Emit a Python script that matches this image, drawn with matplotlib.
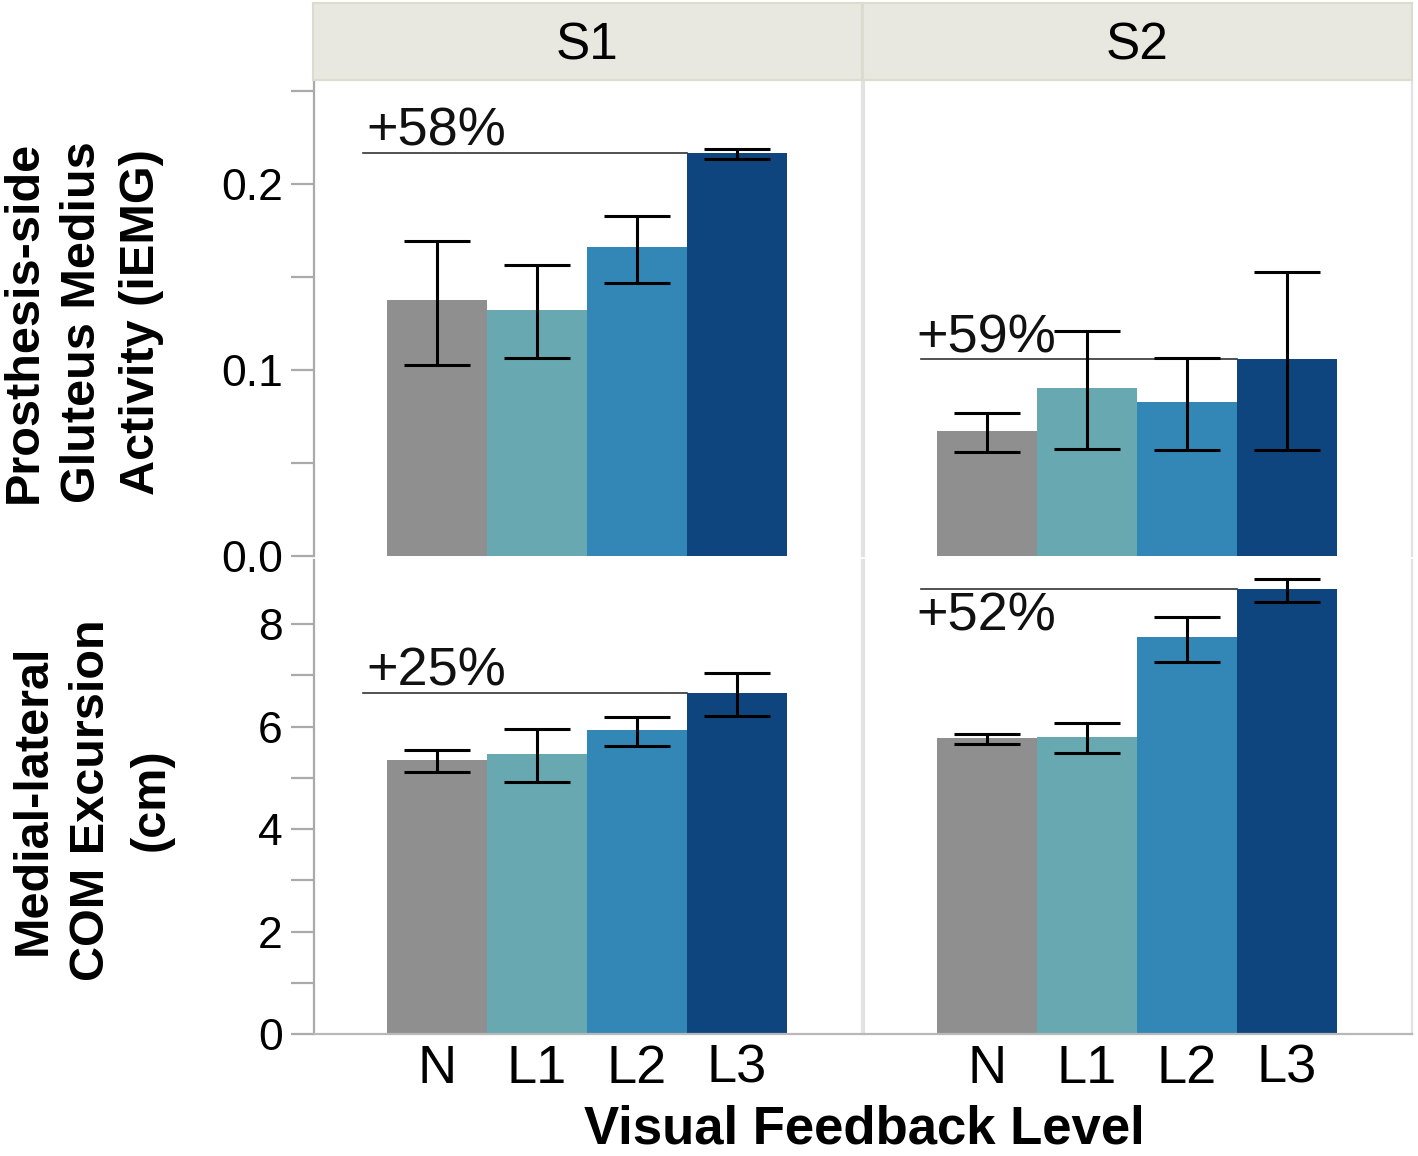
import matplotlib
matplotlib.use("Agg")
import matplotlib.pyplot as plt
import numpy as np

plt.rcParams['font.family'] = ['Liberation Sans', 'DejaVu Sans']

# ---------------- data ----------------
levels = ["N", "L1", "L2", "L3"]
subjects = ["S1", "S2"]
colors = ["#8f8f8f", "#67a8b1", "#3287b6", "#0f457e"]

emg_s1 = [0.1375, 0.1325, 0.166, 0.217]
emg_s1_lo = [0.103, 0.1065, 0.1466, 0.2138]
emg_s1_hi = [0.1696, 0.1567, 0.183, 0.219]

emg_s2 = [0.0674, 0.0905, 0.0826, 0.1059]
emg_s2_lo = [0.0559, 0.0577, 0.0572, 0.0572]
emg_s2_hi = [0.0769, 0.1213, 0.1065, 0.153]

com_s1 = [5.355, 5.47, 5.94, 6.66]
com_s1_lo = [5.11, 4.92, 5.63, 6.21]
com_s1_hi = [5.54, 5.96, 6.19, 7.05]

com_s2 = [5.78, 5.80, 7.74, 8.68]
com_s2_lo = [5.65, 5.49, 7.26, 8.43]
com_s2_hi = [5.86, 6.06, 8.13, 8.87]

pct_labels = [["+58%", "+59%"], ["+25%", "+52%"]]
label_below = [[False, False], [False, True]]

row_data = [
    [(emg_s1, emg_s1_lo, emg_s1_hi), (emg_s2, emg_s2_lo, emg_s2_hi)],
    [(com_s1, com_s1_lo, com_s1_hi), (com_s2, com_s2_lo, com_s2_hi)],
]
ylims = [(0, 0.255), (0, 9.25)]
major_ticks = [[0.0, 0.1, 0.2], [0, 2, 4, 6, 8]]
minor_ticks = [[0.05, 0.15, 0.25], [1, 3, 5, 7]]
tick_fmt = [lambda v: f"{v:.1f}", lambda v: f"{v:.0f}"]
ylabels = ["Prosthesis-side\nGluteus Medius\nActivity (iEMG)",
           "Medial-lateral\nCOM Excursion\n(cm)"]

# ---------------- figure ----------------
W, H = 1418, 1156
fig = plt.figure(figsize=(W / 100, H / 100), dpi=100)

def fx(px):
    return px / W

def fy(py):
    return 1 - py / H

col_x = [(314, 862), (864, 1412)]
row_y = [(82, 556), (560, 1034)]

LIGHT = "#e2e2e2"
DARK = "#aaaaaa"

x = np.arange(len(levels))
for r in range(2):
    for c in range(2):
        x0, x1 = col_x[c]
        y0, y1 = row_y[r]
        ax = fig.add_axes([fx(x0), fy(y1), fx(x1 - x0), (y1 - y0) / H])
        vals, lo, hi = row_data[r][c]
        vals = np.array(vals)
        lo = np.array(lo)
        hi = np.array(hi)
        ax.bar(x, vals, width=1.0, color=colors, edgecolor="none", zorder=2)
        ax.errorbar(x, vals, yerr=[vals - lo, hi - vals], fmt="none",
                    ecolor="black", elinewidth=2.2, capsize=23.5,
                    capthick=2.2, zorder=3)
        # reference line to the L3 level
        ref = vals[-1]
        xs = -0.74 if c == 0 else -0.66
        ax.plot([xs, 2.5], [ref, ref], color="#333333", lw=1.2, zorder=1)
        if label_below[r][c]:
            ax.annotate(pct_labels[r][c], (-0.71, ref), xytext=(0, -2),
                        textcoords="offset points", ha="left", va="top",
                        fontsize=39, color="#111111")
        else:
            ax.annotate(pct_labels[r][c], (-0.71, ref), xytext=(0, 5),
                        textcoords="offset points", ha="left", va="baseline",
                        fontsize=39, color="#111111")
        ax.set_xlim(-1.23, 4.25)
        ax.set_ylim(*ylims[r])
        ax.set_facecolor("white")
        for s in ax.spines.values():
            s.set_linewidth(1.6)
        ax.spines["top"].set_visible(False)
        ax.spines["right"].set_color(LIGHT)
        if c == 0:
            ax.spines["left"].set_color(DARK)
            ax.set_yticks(major_ticks[r])
            ax.set_yticks(minor_ticks[r], minor=True)
            ax.set_yticklabels([tick_fmt[r](v) for v in major_ticks[r]])
            ax.tick_params(axis="y", which="both", length=16.5, width=1.6,
                           color=DARK, labelsize=32, pad=6)
        else:
            ax.spines["left"].set_color(LIGHT)
            ax.set_yticks([])
        if r == 1:
            ax.spines["bottom"].set_color("#b8b8b8")
            ax.set_xticks(x)
            ax.set_xticklabels(levels)
            ax.tick_params(axis="x", length=0, labelsize=39, pad=7)
        else:
            ax.spines["bottom"].set_visible(False)
            ax.set_xticks([])

# strips
for c in range(2):
    x0, x1 = col_x[c]
    sax = fig.add_axes([fx(x0 - 1), fy(80), fx(x1 - x0 + 1), 77 / H])
    sax.set_facecolor("#e9e8e0")
    for s in sax.spines.values():
        s.set_color("#dcdbd0")
        s.set_linewidth(1.5)
    sax.set_xticks([])
    sax.set_yticks([])
    sax.text(0.5, 0.44, subjects[c], ha="center", va="center",
             fontsize=37, transform=sax.transAxes)

# y labels
fig.text(fx(83), fy(322), ylabels[0], rotation=90, ha="center", va="center",
         fontsize=35, fontweight="bold", linespacing=1.4, multialignment="center")
fig.text(fx(92), fy(800), ylabels[1], rotation=90, ha="center", va="center",
         fontsize=35, fontweight="bold", linespacing=1.4, multialignment="center")

# x label
fig.text(fx(864), fy(1130), "Visual Feedback Level", ha="center", va="center",
         fontsize=38, fontweight="bold")

fig.savefig("out.png", dpi=100, facecolor="white")
